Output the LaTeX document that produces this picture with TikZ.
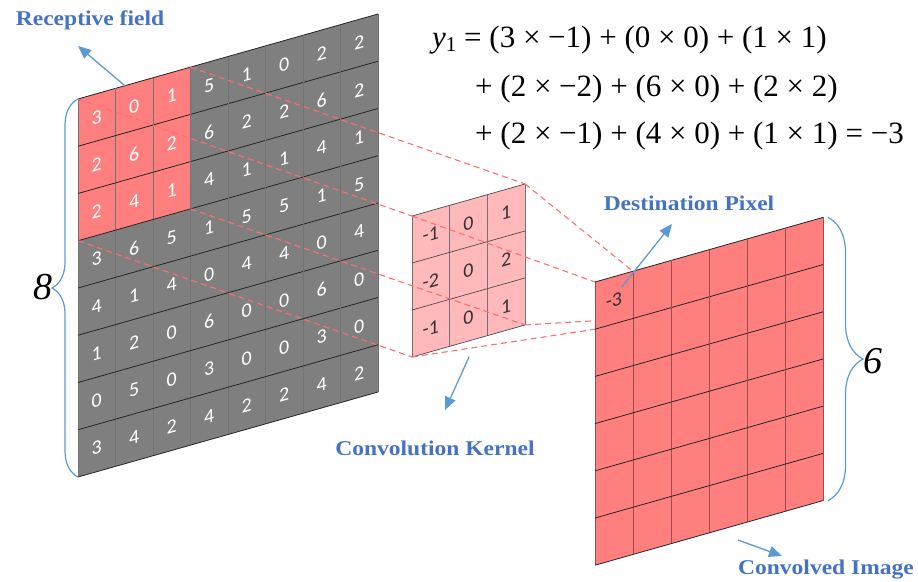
\documentclass[tikz,border=0pt]{standalone}
\usepackage{fontspec}
\setmainfont{Liberation Serif}
\newfontfamily\cellfont{Carlito}
\newfontfamily\labelfont[FakeStretch=1.12]{Liberation Serif}
\usetikzlibrary{arrows.meta,positioning,decorations.pathreplacing}
\definecolor{cellgray}{HTML}{7F7F7F}
\definecolor{fieldred}{HTML}{FF7F7F}
\definecolor{kernelpink}{HTML}{FFB9BB}
\definecolor{dashred}{HTML}{FF6F6F}
\definecolor{labelblue}{HTML}{4472C4}
\definecolor{arrowblue}{HTML}{5B9BD5}

\begin{document}
\begin{tikzpicture}[x=1pt, y=-1pt,
    num/.style={font=\cellfont\fontsize{20}{20}\selectfont, text=white,
                transform shape, inner sep=0pt},
    knum/.style={num, text=black!80},
    hline/.style={draw=black!85, line width=0.8pt},
    vline/.style={draw=black!55, line width=0.6pt},
    link/.style={dashred, line width=1.1pt, dash pattern=on 6pt off 4pt},
    arrow/.style={-{Triangle[length=13pt, width=11pt]}, arrowblue, line width=1.3pt},
    tag/.style={font=\labelfont\bfseries\fontsize{21}{21}\selectfont,
                text=labelblue, inner sep=0pt},
    size/.style={font=\itshape\fontsize{38}{38}\selectfont, inner sep=0pt},
    bracket/.style={arrowblue, line width=1.2pt, decorate,
                    decoration={brace, amplitude=#1}},
    eq/.style={font=\fontsize{31}{31}\selectfont, anchor=base west, inner sep=0pt}
]
\useasboundingbox (0,0) rectangle (918,581);

% Input image (8x8)
\begin{scope}[shift={(78,99)}, yslant=0.2833, x=37.5pt, y=-47.25pt]
  \fill[cellgray] (0,0) rectangle (8,8);
  \fill[fieldred] (0,0) rectangle (3,3);
  \foreach \i in {0,...,8} {
    \draw[vline] (\i,0) -- (\i,8);
    \draw[hline] (0,\i) -- (8,\i);
  }
  \foreach \row [count=\r] in {{3,0,1,5,1,0,2,2},{2,6,2,6,2,2,6,2},
      {2,4,1,4,1,1,4,1},{3,6,5,1,5,5,1,5},{4,1,4,0,4,4,0,4},
      {1,2,0,6,0,0,6,0},{0,5,0,3,0,0,3,0},{3,4,2,4,2,2,4,2}} {
    \foreach \v [count=\c] in \row
      \node[num] (in-\r-\c) at (\c-0.5,\r-0.5) {\v};
  }
  \coordinate (in-tl) at (0,0);
  \coordinate (in-bl) at (0,8);
  \coordinate (rf-tl) at (0,0);
  \coordinate (rf-tr) at (3,0);
  \coordinate (rf-bl) at (0,3);
  \coordinate (rf-br) at (3,3);
  \coordinate (rf-top) at (1.25,0);
\end{scope}

% Kernel (3x3)
\begin{scope}[shift={(412,216)}, yslant=0.2833, x=37.7pt, y=-47pt]
  \fill[kernelpink] (0,0) rectangle (3,3);
  \foreach \i in {0,...,3} {
    \draw[draw=black!55, line width=0.6pt] (\i,0) -- (\i,3);
    \draw[draw=black!70, line width=0.7pt] (0,\i) -- (3,\i);
  }
  \foreach \row [count=\r] in {{-1,0,1},{-2,0,2},{-1,0,1}} {
    \foreach \v [count=\c] in \row
      \node[knum] (k-\r-\c) at (\c-0.5,\r-0.5) {\v};
  }
  \coordinate (k-tl) at (0,0);
  \coordinate (k-tr) at (3,0);
  \coordinate (k-bl) at (0,3);
  \coordinate (k-br) at (3,3);
\end{scope}

% Output map (6x6)
\begin{scope}[shift={(595,282)}, yslant=0.2833, x=38pt, y=-47.2pt]
  \coordinate (o-tl) at (0,0);
  \coordinate (o-tr) at (1,0);
  \coordinate (o-bl) at (0,1);
  \coordinate (o-br) at (1,1);
  \coordinate (out-ne) at (6,0);
  \coordinate (out-se) at (6,6);
  \coordinate (px-in) at (0.7,0.27);
  % dashed links, behind the output map
  \foreach \a/\b in {rf-tl/k-tl, rf-tr/k-tr, rf-bl/k-bl, rf-br/k-br,
                     k-tl/o-tl, k-tr/o-tr, k-bl/o-bl, k-br/o-br}
    \draw[link] (\a) -- (\b);
  \fill[fieldred] (0,0) rectangle (6,6);
  \foreach \i in {0,...,6} {
    \draw[draw=red!45!black!70, line width=0.6pt] (\i,0) -- (\i,6);
    \draw[hline] (0,\i) -- (6,\i);
  }
  \node[knum] (px) at (0.5,0.5) {-3};
\end{scope}

% Braces
\draw[bracket=26pt] (in-bl) -- (in-tl);
\node[size] (eight) at (43,287) {8};
\draw[bracket=35pt] ([xshift=5pt]out-ne) -- ([xshift=5pt]out-se);
\node[size] (six) at (873,361) {6};

% Labels
\node[tag] (rf-label) at (90,20) {Receptive field};
\node[tag] (px-label) at (689,203) {Destination Pixel};
\node[tag] (k-label) at (435,448) {Convolution Kernel};
\node[tag] (out-label) at (826,570) {Convolved Image};

% Arrows
\coordinate (rf-tip) at (78,46);
\coordinate (px-tip) at (672,224);
\coordinate (k-from) at (469,357);
\coordinate (k-tip) at (445,410);
\coordinate (out-from) at (738,540);
\coordinate (out-tip) at (782,556);
\draw[arrow] (rf-top) -- (rf-tip);
\draw[arrow] (px-in) -- (px-tip);
\draw[arrow] (k-from) -- (k-tip);
\draw[arrow] (out-from) -- (out-tip);

% Equation
\node[eq] (eq1) at (432,47) {\textit{y}\raisebox{-0.3ex}{\fontsize{21}{21}\selectfont 1} = (3 × −1) + (0 × 0) + (1 × 1)};
\node[eq] (eq2) at (475,96) {+ (2 × −2) + (6 × 0) + (2 × 2)};
\node[eq] (eq3) at (475,143) {+ (2 × −1) + (4 × 0) + (1 × 1) = −3};

\end{tikzpicture}
\end{document}
